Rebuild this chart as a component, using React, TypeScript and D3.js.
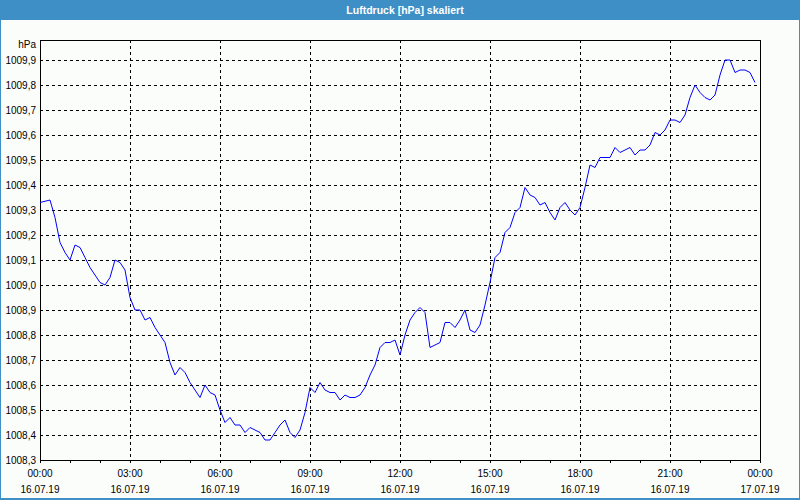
import React from "react";
import * as d3 from "d3";

const TITLE = "Luftdruck [hPa] skaliert";
const UNIT = "hPa";
const START_MINUTE = 0;
const STEP_MINUTES = 10;
const PRESSURE: number[] = [
  1009.33, 1009.335, 1009.34, 1009.27, 1009.17, 1009.13, 1009.1, 1009.16, 1009.15, 1009.11,
  1009.07, 1009.04, 1009.01, 1009.0, 1009.03, 1009.1, 1009.09, 1009.06, 1008.95, 1008.9,
  1008.9, 1008.86, 1008.87, 1008.83, 1008.8, 1008.77, 1008.69, 1008.64, 1008.67, 1008.65,
  1008.61, 1008.58, 1008.55, 1008.6, 1008.57, 1008.56, 1008.5, 1008.45, 1008.47, 1008.44,
  1008.44, 1008.41, 1008.43, 1008.42, 1008.41, 1008.38, 1008.38, 1008.41, 1008.44, 1008.46,
  1008.41, 1008.39, 1008.42, 1008.49, 1008.59, 1008.57, 1008.61, 1008.58, 1008.57, 1008.57,
  1008.54, 1008.56, 1008.55, 1008.55, 1008.56, 1008.59, 1008.64, 1008.68, 1008.75, 1008.77,
  1008.77, 1008.78, 1008.72, 1008.8, 1008.86, 1008.89, 1008.91, 1008.89, 1008.75, 1008.76,
  1008.77, 1008.85, 1008.85, 1008.83, 1008.86, 1008.9, 1008.82, 1008.81, 1008.84, 1008.92,
  1009.01, 1009.11, 1009.13, 1009.21, 1009.23, 1009.29, 1009.31, 1009.39, 1009.36, 1009.35,
  1009.32, 1009.33, 1009.29, 1009.26, 1009.31, 1009.33, 1009.3, 1009.28, 1009.31, 1009.39,
  1009.48, 1009.47, 1009.51, 1009.51, 1009.51, 1009.55, 1009.53, 1009.54, 1009.55, 1009.52,
  1009.54, 1009.54, 1009.56, 1009.61, 1009.6, 1009.62, 1009.66, 1009.66, 1009.65, 1009.68,
  1009.75, 1009.8, 1009.77, 1009.75, 1009.74, 1009.76, 1009.84, 1009.9, 1009.9, 1009.85,
  1009.86, 1009.86, 1009.85, 1009.81,
];
const Y_TICKS: number[] = [1008.3, 1008.4, 1008.5, 1008.6, 1008.7, 1008.8, 1008.9, 1009.0, 1009.1, 1009.2, 1009.3, 1009.4, 1009.5, 1009.6, 1009.7, 1009.8, 1009.9];
const X_TICK_HOURS: number[] = [0, 3, 6, 9, 12, 15, 18, 21, 24];
const X_TIME_LABELS: string[] = ["00:00", "03:00", "06:00", "09:00", "12:00", "15:00", "18:00", "21:00", "00:00"];
const X_DATE_LABELS: string[] = ["16.07.19", "16.07.19", "16.07.19", "16.07.19", "16.07.19", "16.07.19", "16.07.19", "16.07.19", "17.07.19"];

const W = 800;
const H = 500;
const L = 40, R = 760, T = 40, B = 460;
const FONT = "'Liberation Sans', Arial, sans-serif";

export default function App() {
  const x = d3.scaleLinear().domain([0, 24 * 60]).range([L, R]);
  const y = d3.scaleLinear().domain([1008.3, 1009.98]).range([B, T]);
  const pts = PRESSURE.map((v, i) => [START_MINUTE + i * STEP_MINUTES, v] as [number, number]);
  const line = d3.line<[number, number]>().x((d) => x(d[0])).y((d) => y(d[1]));
  const fmt = (v: number) => v.toFixed(1).replace(".", ",");
  const hours = d3.range(0, 25);
  const px = (v: number) => Math.round(v) + 0.5;

  return (
    <svg width={W} height={H} style={{ position: "fixed", left: 0, top: 0 }} fontFamily={FONT}>
      <rect x={0} y={0} width={W} height={H} fill="#fbfdfb" />
      <rect x={0} y={0} width={W} height={20} fill="#3d8fc6" />
      <rect x={0} y={0} width={1} height={H} fill="#3d8fc6" />
      <rect x={W - 1} y={0} width={1} height={H} fill="#3d8fc6" />
      <rect x={0} y={H - 2} width={W} height={2} fill="#3d8fc6" />
      <text x={405} y={14} textAnchor="middle" fill="#ffffff" fontWeight="bold" fontSize={10.5}>
        {TITLE}
      </text>

      <g shapeRendering="crispEdges">
        {Y_TICKS.filter((v) => v > 1008.35).map((v) => (
          <line key={"gy" + v} x1={L} x2={R} y1={px(y(v))} y2={px(y(v))} stroke="#000" strokeDasharray="3,3" />
        ))}
        {X_TICK_HOURS.filter((h) => h > 0 && h < 24).map((h) => (
          <line key={"gx" + h} x1={px(x(h * 60))} x2={px(x(h * 60))} y1={T} y2={B} stroke="#000" strokeDasharray="3,3" />
        ))}
        {hours.map((h) => (
          <line key={"t" + h} x1={px(x(h * 60))} x2={px(x(h * 60))} y1={B} y2={B + 3} stroke="#000" />
        ))}
        <rect x={L + 0.5} y={T + 0.5} width={R - L} height={B - T} fill="none" stroke="#000" />
      </g>

      <path d={line(pts) || ""} fill="none" stroke="#0000ff" strokeWidth={1} />

      <g fontSize={10} fill="#000">
        <text x={36} y={48} textAnchor="end">{UNIT}</text>
        {Y_TICKS.map((v) => (
          <text key={"yl" + v} x={36} y={y(v) + 3.5} textAnchor="end">{fmt(v)}</text>
        ))}
        {X_TICK_HOURS.map((h, i) => (
          <g key={"xl" + h}>
            <text x={x(h * 60)} y={477} textAnchor="middle">{X_TIME_LABELS[i]}</text>
            <text x={x(h * 60)} y={493} textAnchor="middle">{X_DATE_LABELS[i]}</text>
          </g>
        ))}
      </g>
    </svg>
  );
}
